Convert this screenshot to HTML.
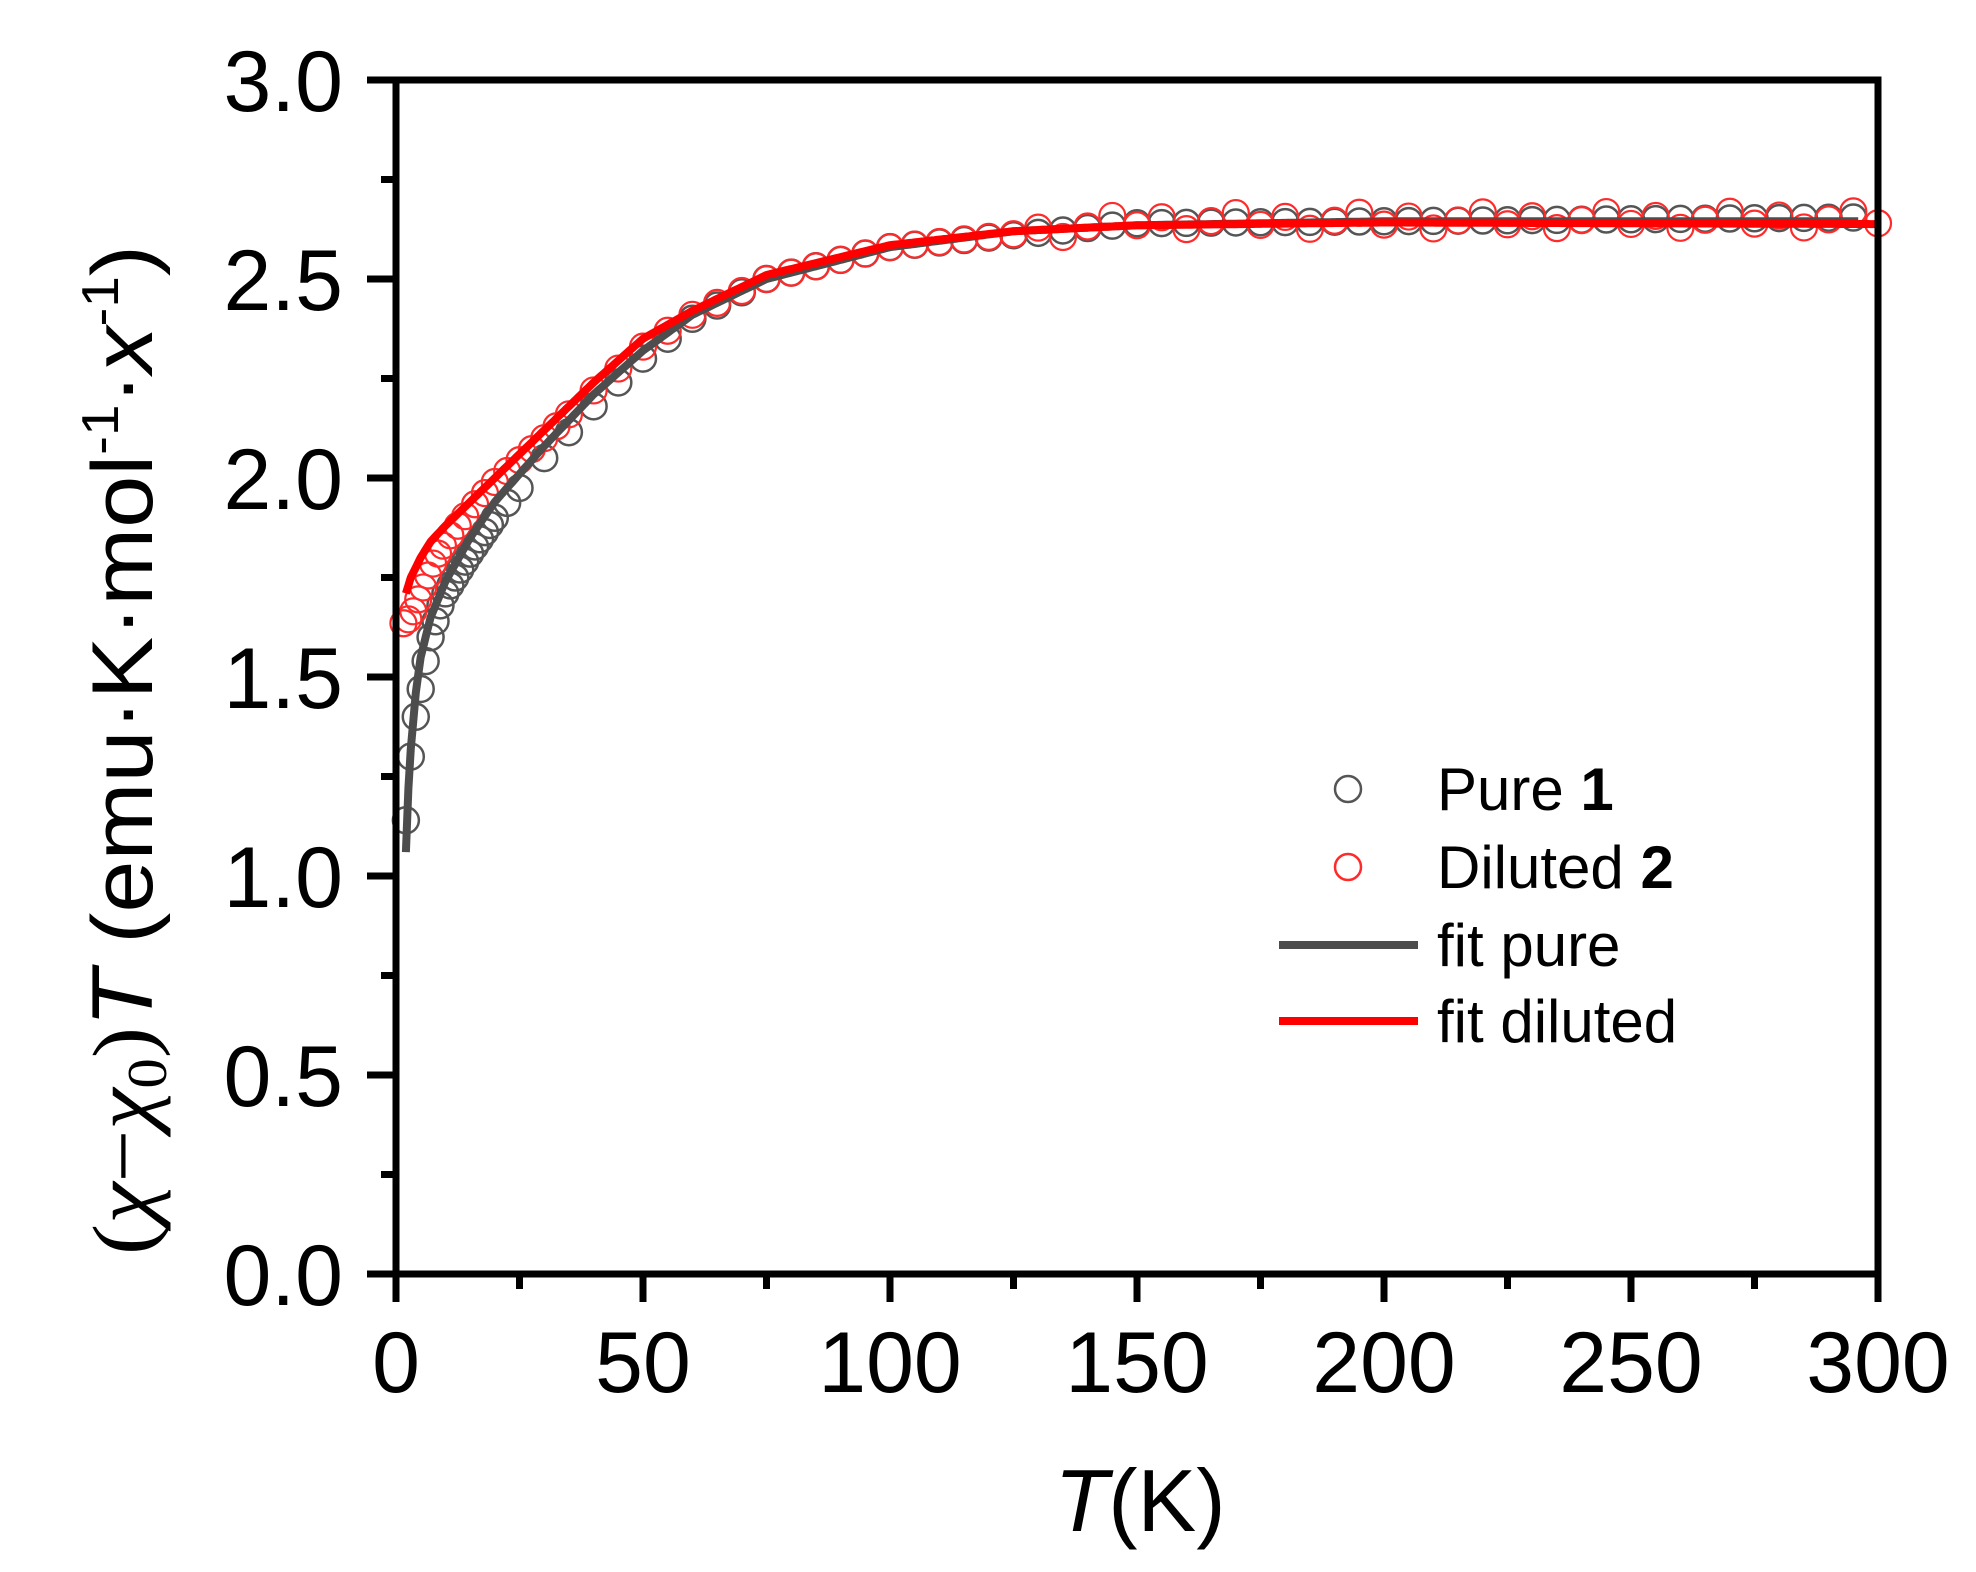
<!DOCTYPE html>
<html><head><meta charset="utf-8"><style>
html,body{margin:0;padding:0;background:#fff;}
svg{display:block;font-family:"Liberation Sans",Arial,sans-serif;}
</style></head><body>
<svg id="s" width="1976" height="1572" viewBox="0 0 1976 1572" xmlns="http://www.w3.org/2000/svg">
<rect width="1976" height="1572" fill="#fff"/>
<g id="data"></g>
<rect x="396" y="80" width="1482" height="1194" fill="none" stroke="#000" stroke-width="7"/>
<g id="ticks" stroke="#000" stroke-width="7"></g>
<g id="labels" font-size="86" fill="#000"></g>
<text x="1140" y="1531" font-size="88" text-anchor="middle"><tspan font-style="italic">T</tspan>(K)</text>
<text transform="translate(152,750) rotate(-90)" font-size="86" text-anchor="middle" textLength="1010" lengthAdjust="spacingAndGlyphs"><tspan font-family="Liberation Serif">(<tspan font-style="italic">χ</tspan>−<tspan font-style="italic">χ</tspan><tspan font-size="56" dy="14">0</tspan><tspan dy="-14">)</tspan></tspan><tspan font-style="italic">T</tspan> (emu·K·mol<tspan font-size="52" dy="-34">-1</tspan><tspan dy="34">·</tspan><tspan font-style="italic">x</tspan><tspan font-size="52" dy="-34">-1</tspan><tspan dy="34">)</tspan></text>
<g font-size="60">
<circle cx="1348" cy="789" r="13" fill="none" stroke="#555" stroke-width="2.5"/>
<text x="1437" y="810">Pure <tspan font-weight="bold">1</tspan></text>
<circle cx="1348" cy="867" r="13" fill="none" stroke="#ff2a2a" stroke-width="2.5"/>
<text x="1437" y="888">Diluted <tspan font-weight="bold">2</tspan></text>
<line x1="1279" y1="945" x2="1418" y2="945" stroke="#4d4d4d" stroke-width="8"/>
<text x="1437" y="966">fit pure</text>
<line x1="1279" y1="1021" x2="1418" y2="1021" stroke="#ff0000" stroke-width="8"/>
<text x="1437" y="1042">fit diluted</text>
</g>
</svg>
<script>
const NS="http://www.w3.org/2000/svg";
const X=t=>396+t*4.94, Y=v=>1274-v*398;
function el(n,a,p){const e=document.createElementNS(NS,n);for(const k in a)e.setAttribute(k,a[k]);p.appendChild(e);return e;}
const tk=document.getElementById('ticks'), lb=document.getElementById('labels');
for(let i=0;i<=12;i++){const v=i*0.25,y=Y(v),maj=i%2==0;
 el('line',{x1:396-(maj?29:15),y1:y,x2:396,y2:y},tk);
 if(maj){const t=el('text',{x:343,y:y+31,'text-anchor':'end'},lb);t.textContent=v.toFixed(1);}}
for(let i=0;i<=12;i++){const T=i*25,x=X(T),maj=i%2==0;
 el('line',{x1:x,y1:1274,x2:x,y2:1274+(maj?28:15)},tk);
 if(maj){const t=el('text',{x:x,y:1392,'text-anchor':'middle'},lb);t.textContent=T;}}
function interp(k,t){for(let i=0;i<k.length-1;i++){if(t<=k[i+1][0]){const f=(t-k[i][0])/(k[i+1][0]-k[i][0]);return k[i][1]+f*(k[i+1][1]-k[i][1]);}}return k[k.length-1][1];}
const pf=[[2,1.06],[2.5,1.22],[3,1.32],[4,1.46],[5,1.55],[7,1.65],[10,1.74],[15,1.85],[20,1.94],[30,2.08],[40,2.21],[50,2.32],[60,2.41],[75,2.50],[100,2.58],[125,2.62],[150,2.635],[200,2.645],[296,2.645]];
const df=[[2,1.71],[3,1.75],[5,1.80],[7,1.84],[10,1.88],[15,1.94],[20,2.0],[30,2.12],[40,2.24],[50,2.35],[60,2.42],[75,2.51],[100,2.585],[125,2.62],[150,2.635],[200,2.642],[300,2.638]];
const pd=[[2,1.14],[3,1.30],[4,1.40],[5,1.47],[6,1.54],[7,1.60],[8,1.64],[9,1.68],[10,1.71],[12,1.75],[15,1.81],[20,1.90],[30,2.05],[40,2.18],[50,2.30],[60,2.40],[75,2.50],[100,2.58],[150,2.64],[300,2.655]];
const dd=[[2,1.64],[3,1.65],[4,1.68],[5,1.71],[6,1.74],[7,1.77],[8,1.80],[10,1.84],[15,1.92],[20,1.99],[30,2.10],[40,2.22],[50,2.33],[60,2.41],[75,2.50],[100,2.58],[150,2.645],[300,2.65]];
const g=document.getElementById('data');
let ts=[2,3,4,5,6,7,8,9,10,11,12,13,14,15,16,17,18,19,20,22.5];for(let t=25;t<=295;t+=5)ts.push(t);
ts.forEach(t=>el('circle',{cx:X(t),cy:Y(interp(pd,t)),r:13,fill:'none',stroke:'#555','stroke-width':2.5},g));
let td=[1.5,2.5,3.5,4.5,5.5,6.5,7.5,8.5,9.5,11,12.5,14,16,18,20,22.5,25,27.5,30,32.5,35];for(let t=40;t<=300;t+=5)td.push(t);
td.forEach((t,i)=>{let v=interp(dd,t);if(t>=130)v+=((i*7)%5-2)*0.01;el('circle',{cx:X(t),cy:Y(v),r:13,fill:'none',stroke:'#ff2a2a','stroke-width':2.2},g);});
function path(k,t0,t1,c){let d='';for(let t=t0;t<=t1;t+=0.5){d+=(d?'L':'M')+X(t).toFixed(1)+','+Y(interp(k,t)).toFixed(1);}el('path',{d:d,fill:'none',stroke:c,'stroke-width':8,'stroke-linejoin':'round'},g);}
path(pf,2,296,'#4d4d4d');path(df,2,300,'#ff0000');
</script>
</body></html>
